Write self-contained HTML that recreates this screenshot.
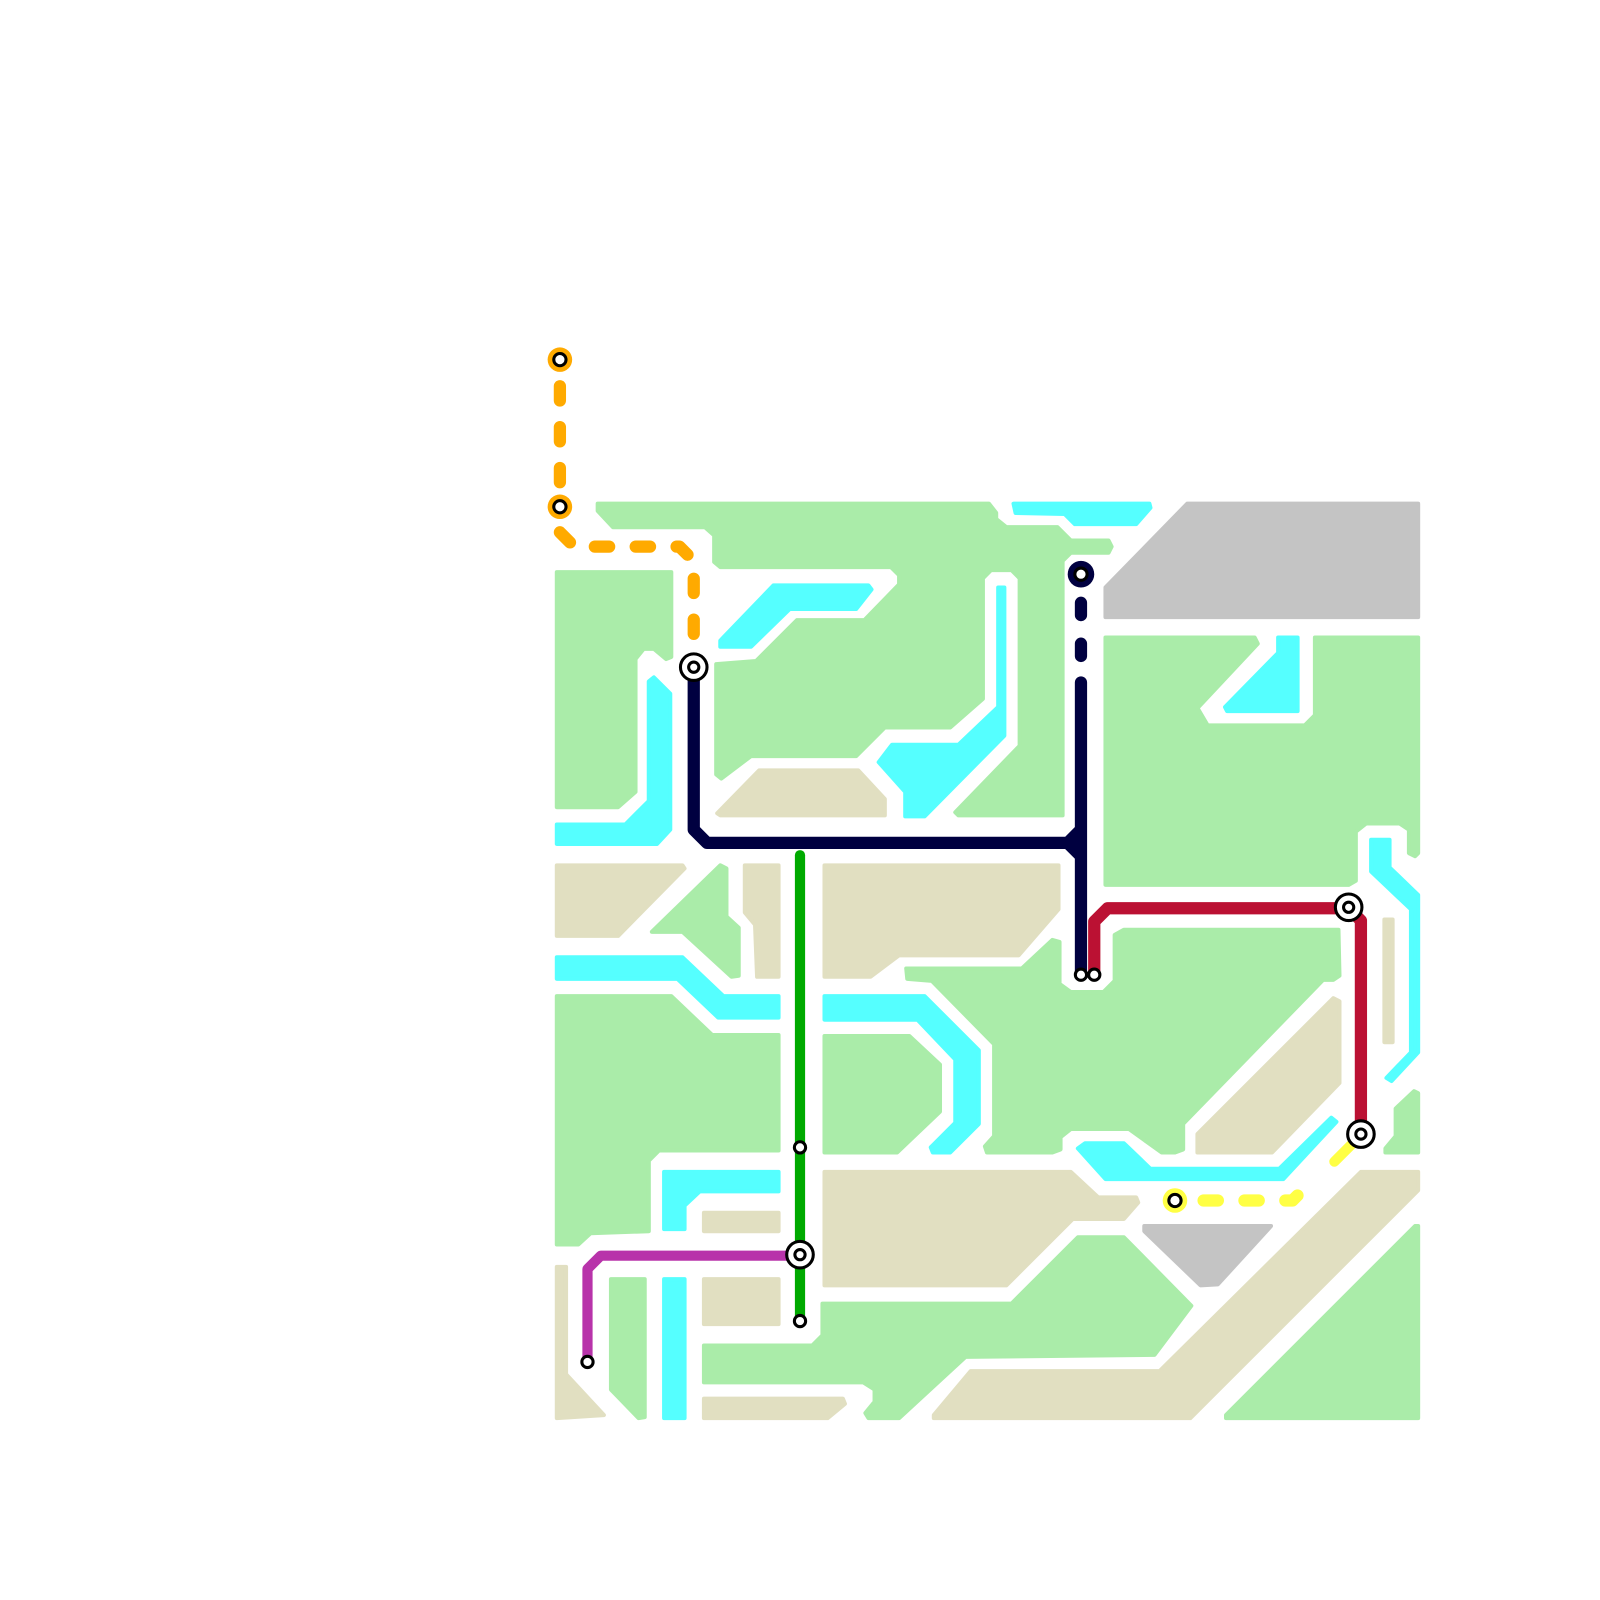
<!DOCTYPE html>
<html><head><meta charset="utf-8"><style>html,body{margin:0;padding:0;background:#fff}svg{display:block}</style></head>
<body>
<svg width="1600" height="1600" viewBox="0 0 1566 1566" xmlns="http://www.w3.org/2000/svg">
<rect width="1566" height="1566" fill="#fff"/>
<g stroke-linejoin="round" stroke-width="4">
<g fill="#aaeca9" stroke="#aaeca9">
<polygon points="585,493 968,493 975,502 975,508 985,516 1035,516 1048,529 1085,529 1088,535 1085,541 1048,541 1040,549 1040,798 938,798 935,795 998,730 998,566 990,558 970,558 962,566 962,684 930,712 866,712 838,740 735,740 706,762 701,758 701,650 740,647 780,607 846,607 880,572 880,563 872,555 705,555 699,550 699,524 690,516 600,516 585,500"/>
<polygon points="545,560 657,560 657,643 652,645 640,635 630,635 622,645 622,775 605,790 545,790"/>
<polygon points="638,912 705,847 711,850 711,897 723,908 723,955 716,956 668,912"/>
<polygon points="545,975 657,975 697,1013 762,1013 762,1126 645,1126 635,1136 635,1205 578,1207 566,1218 545,1218"/>
<polygon points="598,1252 631,1252 631,1387 625,1388 598,1360"/>
<polygon points="689,1317 795,1317 805,1307 805,1276 990,1276 1055,1211 1100,1211 1166,1278 1130,1326 945,1328 880,1388 850,1388 847,1383 856,1372 856,1360 845,1353 689,1353"/>
<polygon points="1200,1385 1385,1200 1388,1200 1388,1388 1200,1388"/>
<polygon points="887,948 1000,948 1030,920 1037,922 1037,963 1048,971 1080,971 1091,960 1091,915 1100,910 1310,910 1311,955 1305,959 1295,959 1158,1100 1158,1125 1150,1128 1137,1128 1105,1105 1048,1105 1038,1113 1038,1125 1030,1128 966,1128 964,1122 973,1112 973,1022 912,960 888,958"/>
<polygon points="807,1014 890,1014 920,1042 920,1088 878,1128 807,1128"/>
<polygon points="1082,624 1228,624 1231,630 1172,693 1182,710 1277,710 1287,700 1287,624 1388,624 1388,835 1385,838 1379,835 1379,812 1370,806 1337,806 1327,814 1327,862 1320,866 1082,866"/>
<polygon points="1356,1124 1366,1112 1366,1085 1384,1068 1388,1070 1388,1128 1356,1128"/>
</g>
<g fill="#e1dfc1" stroke="#e1dfc1">
<polygon points="545,847 668,847 670,850 605,916 545,916"/>
<polygon points="729,847 762,847 762,956 741,956 739,905 729,893"/>
<polygon points="807,847 1036,847 1036,890 997,935 880,935 852,956 807,956"/>
<polygon points="702,796 743,754 840,754 866,782 866,798 705,798"/>
<polygon points="545,1240 554,1240 554,1345 591,1385 545,1388"/>
<polygon points="689,1187 762,1187 762,1205 689,1205"/>
<polygon points="689,1252 762,1252 762,1296 689,1296"/>
<polygon points="689,1369 825,1369 827,1374 810,1388 689,1388"/>
<polygon points="807,1147 1048,1147 1075,1172 1112,1172 1114,1177 1100,1193 1050,1193 985,1258 807,1258"/>
<polygon points="914,1385 950,1342 1135,1342 1332,1147 1388,1147 1388,1165 1165,1388 914,1388"/>
<polygon points="1172,1110 1305,977 1311,980 1311,1060 1245,1128 1172,1128"/>
<polygon points="1355,900 1363,900 1363,1020 1355,1020"/>
</g>
<g fill="#c4c4c4" stroke="#c4c4c4">
<polygon points="1082,575 1162,493 1388,493 1388,604 1082,604"/>
<polygon points="1120,1200 1244,1200 1192,1257 1175,1258 1120,1205"/>
</g>
<g fill="#55ffff" stroke="#55ffff">
<polygon points="705,627 757,573 850,573 853,577 838,596 773,596 735,633 705,633"/>
<polygon points="977,575 983,575 983,720 905,799 886,799 886,775 860,746 873,729 938,729 977,692"/>
<polygon points="545,807 612,807 635,784 635,667 640,663 656,679 656,812 643,826 545,826"/>
<polygon points="545,937 668,937 708,975 762,975 762,996 703,996 663,958 545,958"/>
<polygon points="650,1147 762,1147 762,1166 685,1166 670,1180 670,1203 650,1203"/>
<polygon points="650,1252 670,1252 670,1388 650,1388"/>
<polygon points="807,975 905,975 958,1028 958,1100 930,1128 913,1128 911,1123 935,1099 935,1037 898,998 807,998"/>
<polygon points="1055,1124 1062,1119 1100,1119 1126,1144 1252,1144 1303,1094 1308,1098 1256,1154 1082,1154"/>
<polygon points="992,493 1125,493 1126,497 1112,513 1052,513 1042,503 994,502"/>
<polygon points="1199,692 1251,639 1251,624 1270,624 1270,696 1201,696"/>
<polygon points="1342,822 1360,822 1360,849 1388,876 1388,1030 1362,1058 1357,1055 1381,1030 1381,890 1342,853"/>
</g>
</g>
<g fill="none" stroke-linecap="round" stroke-linejoin="round">
<path d="M548,378 V472" stroke="#ffaa00" stroke-width="12" stroke-dasharray="14,26"/>
<path d="M548,521 L562,535 H665 L679,549 V630" stroke="#ffaa00" stroke-width="12" stroke-dasharray="14,26"/>
<path d="M1058,590 V645" stroke="#000040" stroke-width="12" stroke-dasharray="12,28"/>
<path d="M679,653 V812 L692,825 H1045 L1058,812 M1045,825 L1058,838 M1058,668 V954" stroke="#000040" stroke-width="12"/>
<path d="M1071,954 V902 L1084,889 H1320 L1332,901 V1110" stroke="#bb1133" stroke-width="12"/>
<path d="M783,837 V1293" stroke="#00aa00" stroke-width="10"/>
<path d="M575,1333 V1242 L588,1229 H783" stroke="#b833aa" stroke-width="10"/>
<path d="M1178,1175 H1265 L1280,1160" stroke="#ffff44" stroke-width="12" stroke-dasharray="14,26"/>
<path d="M1306,1137 L1325,1118" stroke="#ffff44" stroke-width="10"/>
</g>
<g>
<circle cx="548" cy="352" r="12" fill="#ffaa00"/><circle cx="548" cy="352" r="6" fill="#fff" stroke="#000" stroke-width="3"/>
<circle cx="548" cy="496" r="12" fill="#ffaa00"/><circle cx="548" cy="496" r="6" fill="#fff" stroke="#000" stroke-width="3"/>
<circle cx="1058" cy="562" r="13" fill="#000040"/><circle cx="1058" cy="562" r="6" fill="#fff" stroke="#000" stroke-width="3"/>
<circle cx="1150" cy="1175" r="12" fill="#ffff44"/><circle cx="1150" cy="1175" r="6" fill="#fff" stroke="#000" stroke-width="3"/>
<g fill="#fff" stroke="#000" stroke-width="3">
<circle cx="679" cy="653" r="13"/><circle cx="679" cy="653" r="5"/>
<circle cx="783" cy="1228" r="13"/><circle cx="783" cy="1228" r="5"/>
<circle cx="1320" cy="888" r="13"/><circle cx="1320" cy="888" r="5"/>
<circle cx="1332" cy="1110" r="13"/><circle cx="1332" cy="1110" r="5"/>
<circle cx="783" cy="1123" r="5.5"/><circle cx="783" cy="1293" r="5.5"/>
<circle cx="575" cy="1333" r="5.5"/><circle cx="1058" cy="954" r="5.5"/><circle cx="1071" cy="954" r="5.5"/>
</g>
</g>
</svg>
</body></html>
